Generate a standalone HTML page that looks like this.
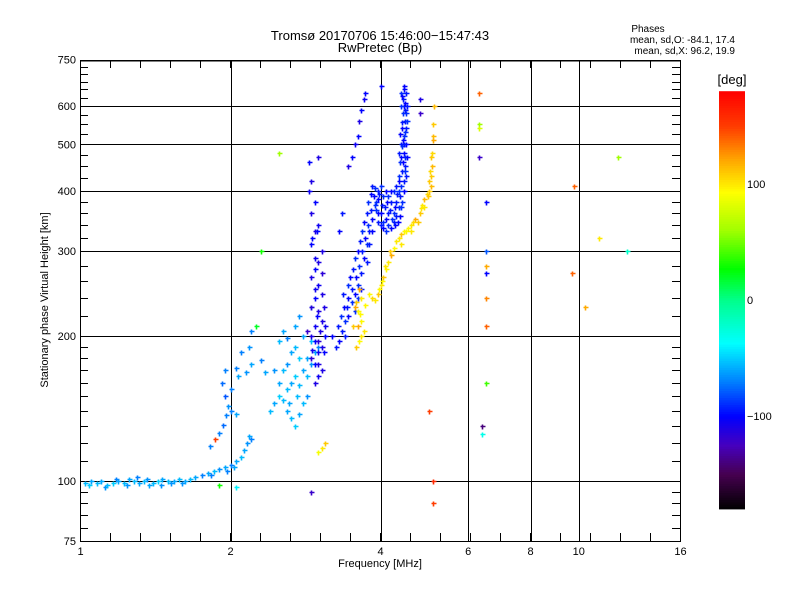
<!DOCTYPE html>
<html><head><meta charset="utf-8"><style>
html,body{margin:0;padding:0;background:#fff}
svg{display:block;font-family:"Liberation Sans",sans-serif}
</style></head><body>
<svg id="chart" width="800" height="600" viewBox="0 0 800 600" xmlns="http://www.w3.org/2000/svg">
<rect width="800" height="600" fill="#fff"/>
<g id="grid"></g>
<g id="marks"></g>
<g id="axes"></g>
<text x="380" y="40" font-size="13" text-anchor="middle">Tromsø 20170706 15:46:00−15:47:43</text>
<text x="380" y="52" font-size="13" text-anchor="middle">RwPretec (Bp)</text>
<text x="648" y="32" font-size="10" text-anchor="middle">Phases</text>
<text x="735" y="43" font-size="10" text-anchor="end">mean, sd,O: -84.1, 17.4</text>
<text x="735" y="54" font-size="10" text-anchor="end">mean, sd,X:  96.2, 19.9</text>
<text x="380" y="567" font-size="11" text-anchor="middle">Frequency [MHz]</text>
<text transform="translate(48,300) rotate(-90)" font-size="11" text-anchor="middle">Stationary phase Virtual Height [km]</text>
<g id="cbar"></g>
<text x="732" y="84" font-size="13" text-anchor="middle">[deg]</text>
</svg>
<script>
const xTicks=[1,2,4,6,8,10,16];
const xGrid=[2,4,6,8,10];
const yTicks=[75,100,200,300,400,500,600,750];
const yGrid=[100,200,300,400,500,600];
const cbTicks=[100,0,-100];
const traceE=[[1.02,99,-55],[1.04,98,-50],[1.05,100,-60],[1.08,99,-55],[1.1,100,-60],[1.12,97,-65],[1.13,98,-55],[1.16,99,-50],[1.18,101,-70],[1.19,100,-60],[1.22,99,-55],[1.24,98,-65],[1.25,101,-60],[1.28,100,-55],[1.3,102,-70],[1.31,99,-60],[1.34,100,-55],[1.36,101,-65],[1.37,98,-60],[1.4,99,-55],[1.43,100,-50],[1.45,98,-65],[1.46,101,-60],[1.5,100,-55],[1.52,99,-65],[1.54,100,-60],[1.58,101,-55],[1.6,99,-65],[1.62,100,-60],[1.66,101,-55],[1.7,102,-60],[1.75,103,-70],[1.8,104,-60],[1.83,103,-70],[1.85,105,-55],[1.9,106,-65],[1.95,107,-60],[1.97,105,-70],[2.0,108,-70],[2.03,107,-60],[2.05,110,-60],[2.1,112,-55],[2.13,116,-60],[2.16,120,-65],[2.18,124,-60],[2.2,122,-70]];
const traceLow=[[1.82,118,-70],[1.86,122,150],[1.9,126,-70],[1.93,131,-75],[1.96,137,-70],[1.98,143,-65],[2.0,140,-70],[2.05,138,-60],[1.95,150,-80],[2.0,155,-70],[2.07,165,-60],[2.05,172,-70],[2.15,168,-65],[2.2,175,-60],[2.3,178,-70],[2.35,168,-60],[2.45,170,-65],[1.92,160,-75],[1.95,170,-70],[2.18,190,-65],[2.2,205,-70],[2.1,185,-70]];
const traceA=[[2.4,140,-55],[2.45,145,-60],[2.5,150,-50],[2.55,147,-55],[2.6,140,-60],[2.65,135,-55],[2.7,130,-50],[2.75,138,-60],[2.8,145,-55],[2.85,150,-65],[2.6,155,-55],[2.65,160,-60],[2.7,165,-50],[2.75,158,-55],[2.5,160,-60],[2.55,170,-55],[2.6,175,-65],[2.65,185,-60],[2.7,190,-55],[2.75,180,-50],[2.8,170,-60],[2.85,165,-55],[2.9,175,-65],[2.95,185,-60],[2.5,195,-55],[2.55,205,-60],[2.6,198,-70],[2.8,200,-60],[2.9,195,-55],[3.0,190,-70],[2.7,210,-60],[2.75,220,-65],[2.9,230,-60],[2.62,145,-60],[2.72,150,-55],[2.85,180,-60]];
const traceB=[[2.95,160,-110],[3.0,165,-105],[3.05,170,-110],[2.95,175,-100],[2.9,180,-115],[3.0,185,-105],[3.05,190,-110],[2.95,195,-100],[2.9,200,-110],[2.85,205,-120],[2.95,210,-105],[3.05,215,-110],[3.1,200,-100],[3.1,210,-105],[3.0,225,-110],[2.9,230,-115],[2.95,240,-100],[3.05,245,-110],[3.0,255,-105],[2.9,265,-110],[2.95,275,-100],[3.05,270,-115],[2.95,290,-105],[3.05,300,-110],[2.9,310,-100],[2.95,330,-110],[3.0,340,-105],[2.9,360,-110],[2.95,380,-100],[2.88,400,-105],[2.9,420,-110],[2.88,460,-100],[3.0,175,-110],[2.92,187,-105],[3.02,205,-110],[2.98,220,-100],[3.08,230,-110],[2.95,250,-105],[3.0,285,-110],[2.92,320,-100],[3.0,195,-115],[3.08,185,-100]];
const traceX=[[3.25,190,-95],[3.3,195,-100],[3.35,205,-95],[3.4,215,-90],[3.45,220,-100],[3.42,230,-95],[3.5,235,-90],[3.55,245,-100],[3.5,250,-95],[3.6,255,-90],[3.58,265,-100],[3.65,270,-95],[3.62,280,-90],[3.7,290,-100],[3.68,300,-95],[3.75,310,-90],[3.72,320,-100],[3.8,330,-95],[3.78,340,-90],[3.85,350,-100],[3.82,365,-95],[3.9,375,-90],[3.88,390,-100],[3.95,400,-95],[3.92,380,-90],[4.0,360,-100],[4.0,340,-95],[4.05,345,-90],[4.1,350,-100],[4.08,370,-95],[4.15,390,-90],[4.1,400,-100],[4.2,380,-95],[4.22,350,-90],[4.28,340,-100],[4.3,355,-95],[4.35,370,-90],[4.33,345,-100],[4.38,390,-95],[4.4,410,-90],[4.35,420,-100],[4.42,440,-95],[4.38,460,-90],[4.45,480,-100],[4.4,500,-95],[4.45,520,-90],[4.42,540,-100],[4.47,560,-95],[4.43,580,-90],[4.46,600,-100],[4.44,620,-95],[4.4,640,-90],[4.45,650,-100],[4.3,380,-95],[4.25,400,-90],[4.45,400,-100],[4.5,430,-95],[4.48,470,-90],[4.5,500,-100],[4.5,540,-95],[4.5,580,-90],[4.48,610,-100],[4.5,640,-95],[4.1,330,-90],[4.2,335,-100],[3.98,395,-95],[4.0,410,-90],[3.85,330,-100],[3.75,285,-95],[3.55,225,-90],[3.45,240,-100],[3.65,250,-95],[3.4,200,-95],[3.6,240,-90],[3.8,310,-95],[3.95,360,-100],[4.15,360,-95],[4.4,370,-90],[4.47,450,-95],[4.43,510,-100],[4.47,590,-95]];
const traceX2=[[3.2,200,-100],[3.28,210,-95],[3.33,220,-90],[3.38,230,-100],[3.36,245,-95],[3.44,255,-90],[3.48,265,-100],[3.52,275,-95],[3.56,290,-90],[3.6,300,-100],[3.64,315,-95],[3.68,330,-90],[3.7,345,-100],[3.75,360,-95],[3.78,380,-90],[3.82,395,-100],[3.85,410,-95],[3.9,405,-90],[3.95,385,-100],[4.02,375,-95],[4.05,390,-90],[4.12,380,-100],[4.18,365,-95],[4.25,360,-90],[4.28,370,-100],[4.32,395,-95],[4.36,430,-90],[4.4,470,-100],[4.36,480,-95],[4.42,495,-90],[4.38,525,-100],[4.42,555,-95],[4.4,600,-90],[4.42,630,-100],[4.52,600,-95],[4.52,560,-90],[4.52,470,-100],[4.46,420,-95],[4.42,380,-90],[4.38,355,-100],[4.25,345,-95],[4.15,340,-90],[4.05,335,-100],[3.95,345,-95],[3.92,365,-90],[4.45,660,-100],[4.48,530,-90],[4.46,500,-95],[4.44,460,-100],[4.48,440,-90],[4.3,410,-95],[4.2,400,-100],[4.35,400,-90]];
const traceLeft=[[3.3,330,-100],[3.35,360,-95],[3.45,450,-110],[3.5,470,-100],[3.55,500,-105],[3.6,520,-100],[3.62,560,-110],[3.66,590,-100],[3.7,620,-105],[3.72,640,-100],[3.0,470,-110],[2.98,330,-100]];
const traceO=[[3.58,190,110],[3.62,195,95],[3.66,200,100],[3.6,210,120],[3.64,222,95],[3.58,235,110],[3.66,240,100],[3.72,232,95],[3.62,250,120],[3.8,245,95],[3.9,238,100],[3.95,245,110],[3.98,250,95],[4.0,255,100],[4.05,265,110],[4.1,275,95],[4.15,285,100],[4.2,295,120],[4.25,305,95],[4.3,315,100],[4.4,325,110],[4.5,330,95],[4.6,340,100],[4.7,350,120],[4.8,360,110],[4.85,375,100],[4.9,385,115],[4.95,395,105],[5.0,400,110],[5.05,410,115],[5.05,430,110],[5.08,450,115],[5.08,480,105],[5.1,510,120],[5.1,550,110],[5.12,600,115],[4.4,310,100],[4.55,335,95],[4.75,345,110],[4.9,370,100],[5.0,420,110],[3.7,205,100],[3.6,225,95],[3.85,240,105],[4.02,260,95],[4.08,280,100],[4.18,300,110],[4.35,320,100],[4.65,345,105],[4.82,368,100],[4.98,390,110],[5.02,440,105],[5.06,470,110],[5.1,520,115],[4.45,330,95],[4.6,330,100],[3.52,210,110],[3.55,230,120],[3.65,215,95]];
const scatter=[[2.5,480,60],[2.3,300,30],[2.25,210,20],[3.0,115,90],[3.05,117,100],[3.1,120,110],[2.9,95,-120],[2.05,97,-40],[1.9,98,30],[6.3,640,140],[6.3,550,60],[6.3,540,80],[6.3,470,-120],[6.5,380,-100],[6.5,300,-80],[6.5,270,-100],[6.5,280,120],[6.5,240,130],[6.5,210,140],[6.5,160,40],[6.4,130,-140],[6.4,125,-30],[5.1,100,160],[5.1,90,150],[5.0,140,150],[9.8,410,140],[9.7,270,140],[10.3,230,120],[11.0,320,100],[12.0,470,60],[12.5,300,-20],[4.0,660,-100],[4.8,620,-110],[4.8,580,-120]];

const NS='http://www.w3.org/2000/svg';
const X0=80.5,PXO=150,YR=191,PYO=145;
function xs(f){return X0+PXO*Math.log2(f);}
function ys(h){return YR-PYO*Math.log2(h/400);}
const L=80,R=680,T=60,B=541;
const stops=[[-180,[0,0,0]],[-150,[70,0,80]],[-125,[70,0,190]],[-100,[0,0,255]],[-70,[0,128,255]],[-37,[0,255,255]],[0,[0,255,140]],[27,[0,255,0]],[60,[160,255,0]],[93,[255,255,0]],[120,[255,170,0]],[150,[255,60,0]],[180,[255,0,0]]];
function pcol(p){for(let i=1;i<stops.length;i++){if(p<=stops[i][0]){const a=stops[i-1],b=stops[i],t=(p-a[0])/(b[0]-a[0]);const c=a[1].map((v,k)=>Math.round(v+(b[1][k]-v)*t));return `rgb(${c})`;}}return 'rgb(255,0,0)';}
function mk(tag,attrs,parent){const e=document.createElementNS(NS,tag);for(const k in attrs)e.setAttribute(k,attrs[k]);parent.appendChild(e);return e;}
const grid=document.getElementById('grid'),axes=document.getElementById('axes'),marks=document.getElementById('marks'),cbar=document.getElementById('cbar');
xGrid.forEach(f=>{const x=Math.round(xs(f))+0.5;const l=mk('line',{x1:x,x2:x,y1:T,y2:B,stroke:'#000','stroke-width':1},grid);

});
yGrid.forEach(h=>{const y=Math.round(ys(h))+0.5;const l=mk('line',{x1:L,x2:R,y1:y,y2:y,stroke:'#000','stroke-width':1},grid);

});
const fr=mk('rect',{x:L+0.5,y:T+0.5,width:R-L,height:B-T,fill:'none',stroke:'#000','stroke-width':1},axes);


mk('line',{x1:L,x2:R,y1:T+1,y2:T+1,stroke:'#000','stroke-width':1},axes);
for(let x=L+30;x<R;x+=30){mk('line',{x1:x+0.5,x2:x+0.5,y1:T,y2:T+8,stroke:'#000'},axes);mk('line',{x1:x+0.5,x2:x+0.5,y1:B,y2:B-8,stroke:'#000'},axes);}
const ym=[];for(let h=80;h<100;h+=5)ym.push(h);for(let h=110;h<200;h+=10)ym.push(h);for(let h=220;h<400;h+=20)ym.push(h);for(let h=425;h<750;h+=25)ym.push(h);
ym.forEach(h=>{const y=Math.round(ys(h))+0.5;mk('line',{x1:L,x2:L+8,y1:y,y2:y,stroke:'#000'},axes);mk('line',{x1:R,x2:R-8,y1:y,y2:y,stroke:'#000'},axes);});
xTicks.forEach(f=>{const t=mk('text',{x:xs(f),y:555,'font-size':11,'text-anchor':'middle'},axes);t.textContent=f;

});
yTicks.forEach(h=>{const t=mk('text',{x:76,y:ys(h)+4,'font-size':11,'text-anchor':'end'},axes);t.textContent=h;

});
[traceE,traceLow,traceA,traceB,traceX,traceX2,traceLeft,traceO,scatter].forEach(tr=>tr.forEach(p=>{
const x=Math.round(xs(p[0]))+0.5,y=Math.round(ys(p[1]))+0.5,c=pcol(p[2]);
const g=mk('path',{d:`M${x-2} ${y}H${x+3}M${x} ${y-2}V${y+3}`,stroke:c,'stroke-width':1.6,fill:'none'},marks);


}));
const CB0=300,CBS=1.16;
for(let p=-180;p<180;p+=2){const y1=CB0-(p+2)*CBS,y2=CB0-p*CBS;const r=mk('rect',{x:719,y:y1,width:26,height:y2-y1+0.6,fill:pcol(p+1)},cbar);

}
cbTicks.forEach(p=>{const y=CB0-p*CBS;const t=mk('text',{x:747,y:y+4,'font-size':11},cbar);t.textContent=(p<0?'−':'')+Math.abs(p);

});
</script>
</body></html>
